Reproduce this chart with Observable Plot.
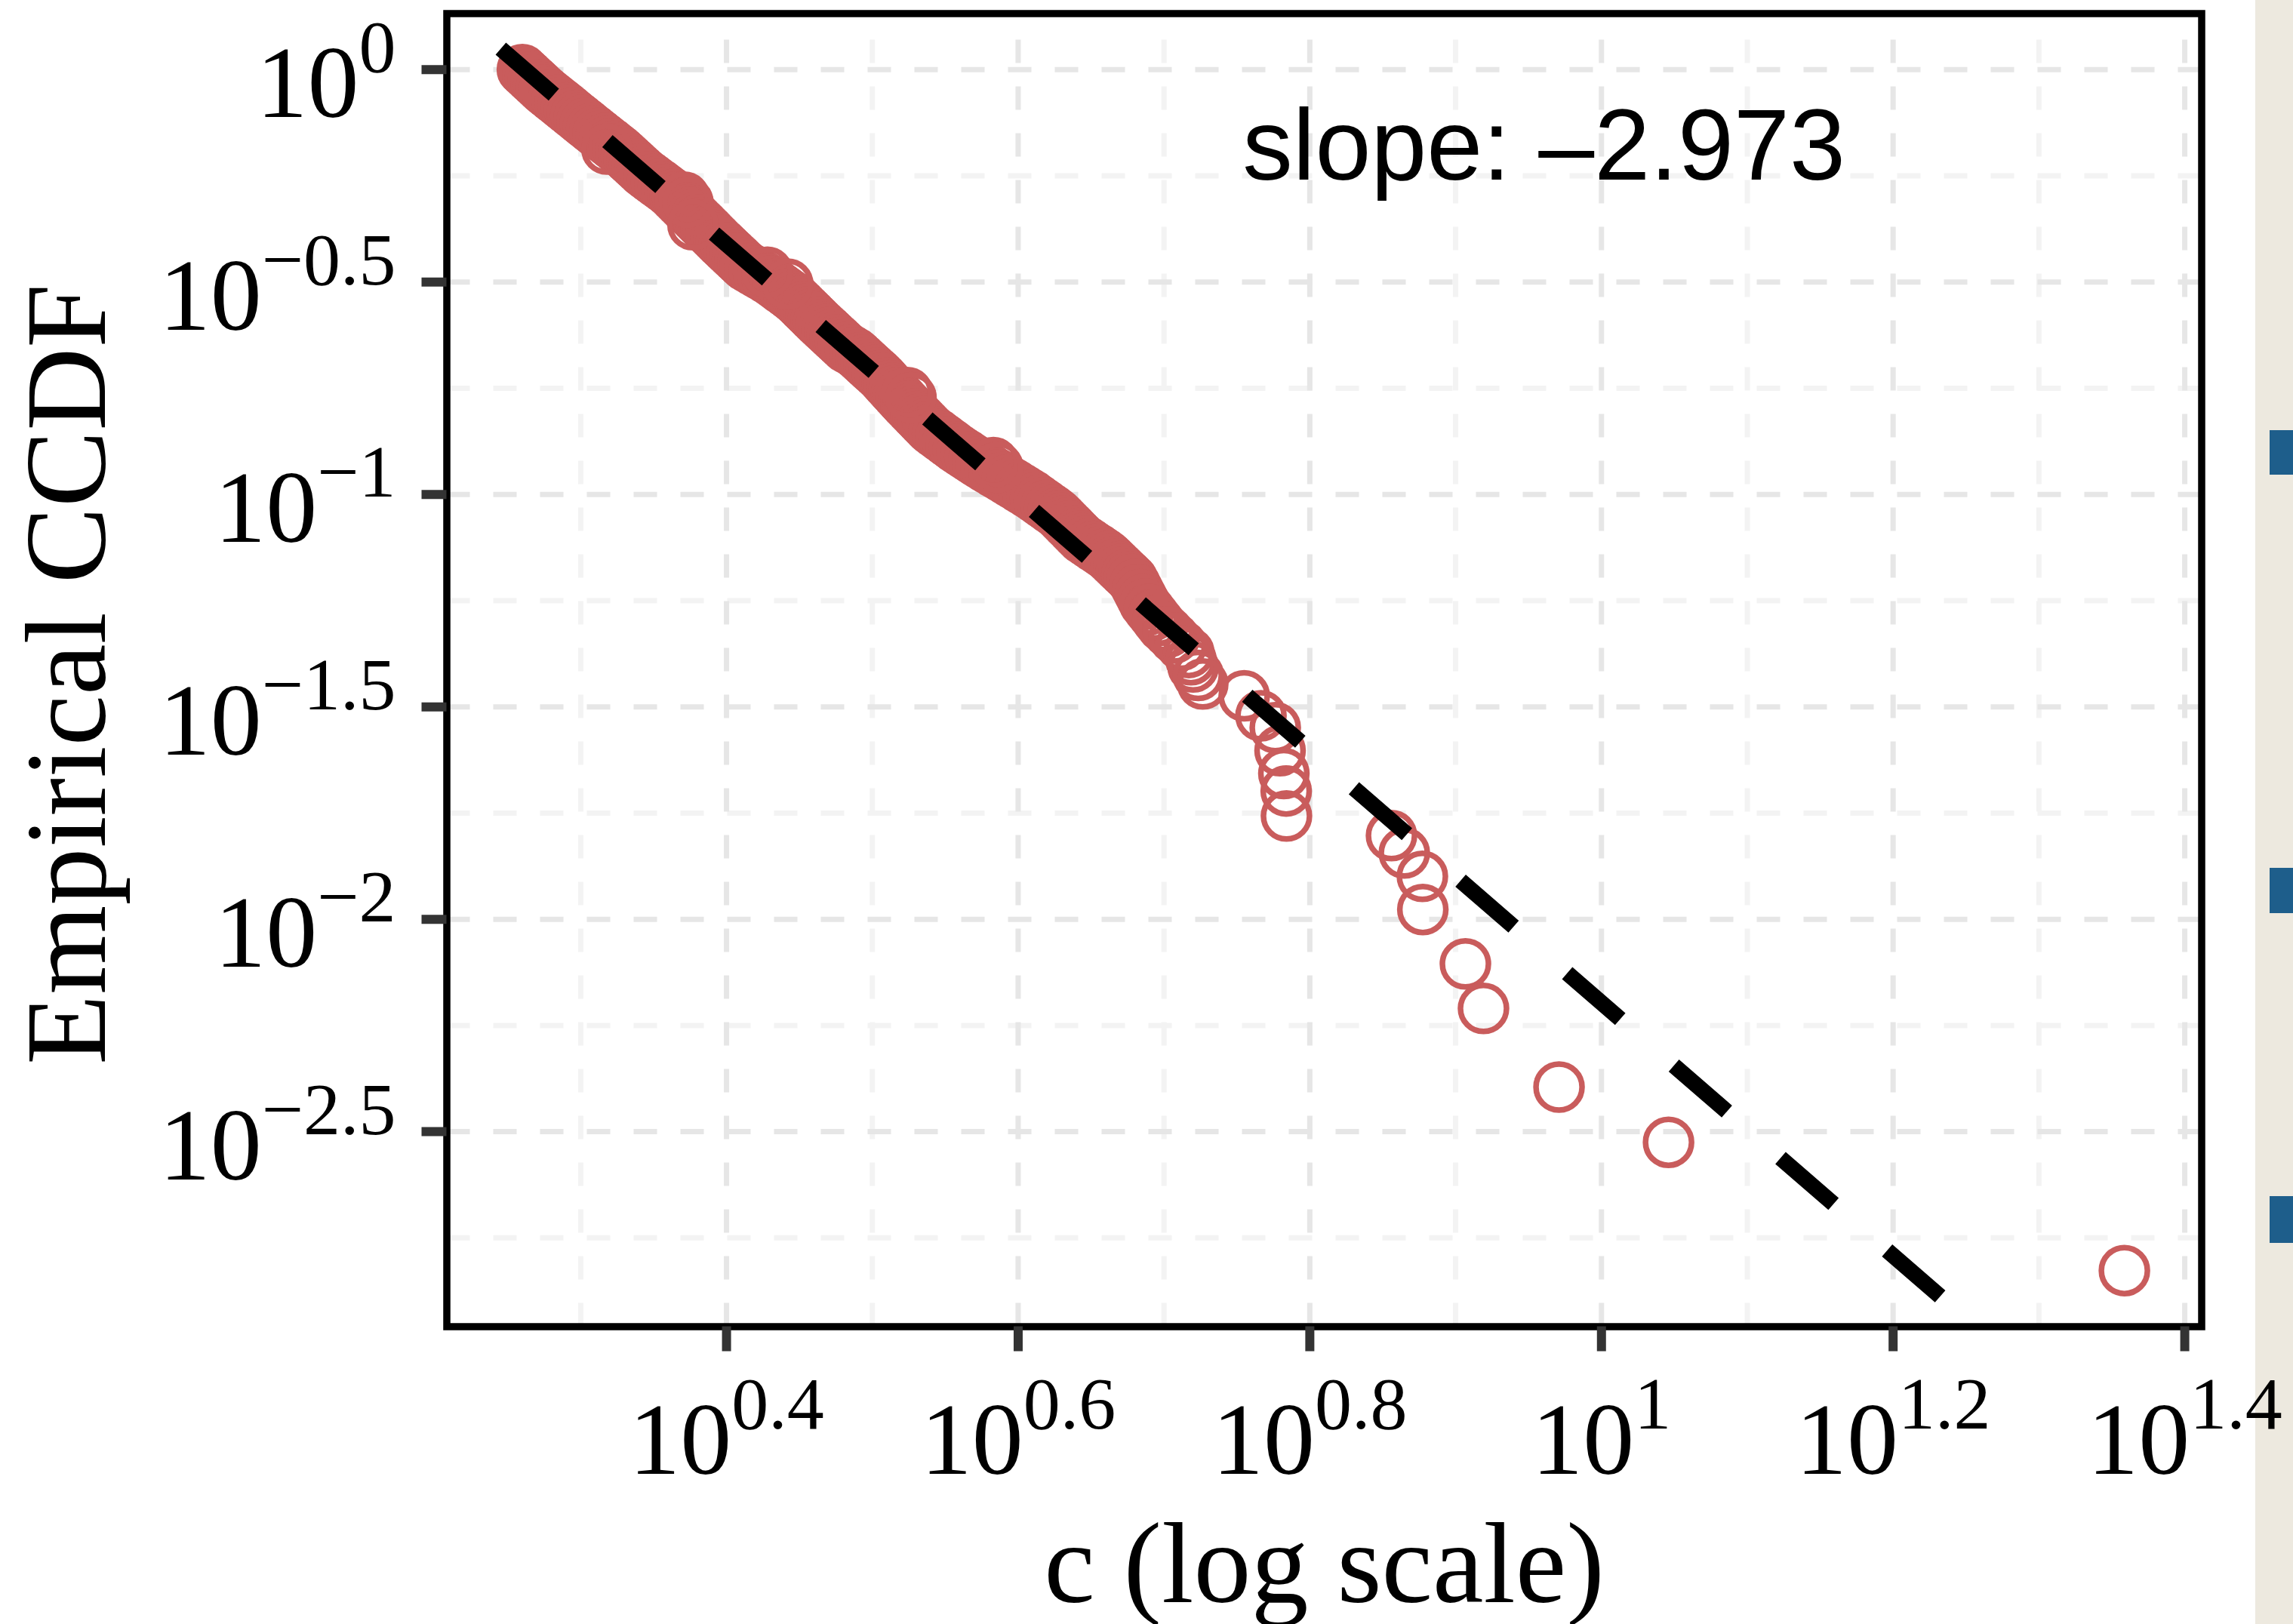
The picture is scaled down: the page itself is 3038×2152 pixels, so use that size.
<!DOCTYPE html>
<html>
<head>
<meta charset="utf-8">
<script src="https://cdn.jsdelivr.net/npm/d3@7"></script>
<script src="https://cdn.jsdelivr.net/npm/@observablehq/plot@0.6"></script>
<style>
  html, body { margin: 0; padding: 0; background: #ffffff; width: 3038px; height: 2152px; overflow: hidden; }
  #strip { position: absolute; left: 2988px; top: 0; width: 50px; height: 2152px; background: #EDE9DF; z-index: 0; }
  .sq { position: absolute; left: 3007px; width: 31px; background: #1E5E8B; z-index: 0; }
  #chart { position: absolute; left: 0; top: 0; z-index: 1; }
</style>
</head>
<body>
<div id="strip"></div>
<div class="sq" style="top:570px;height:59px"></div>
<div class="sq" style="top:1150px;height:60px"></div>
<div class="sq" style="top:1585px;height:62px"></div>
<div id="chart"></div>
<script>
// ---- data (log10 exponents) ----
const cExp = [
  0.2600,0.2619,0.2638,0.2656,0.2675,0.2694,0.2713,0.2731,0.2750,0.2772,
  0.2793,0.2815,0.2837,0.2859,0.2880,0.2902,0.2924,0.2945,0.2967,0.2989,
  0.3010,0.3032,0.3054,0.3076,0.3097,0.3120,0.3142,0.3164,0.3187,0.3209,
  0.3231,0.3254,0.3275,0.3294,0.3313,0.3332,0.3351,0.3370,0.3389,0.3408,
  0.3427,0.3448,0.3472,0.3495,0.3519,0.3543,0.3567,0.3590,0.3613,0.3631,
  0.3648,0.3666,0.3683,0.3701,0.3718,0.3736,0.3754,0.3771,0.3789,0.3806,
  0.3824,0.3842,0.3859,0.3877,0.3894,0.3911,0.3929,0.3946,0.3964,0.3983,
  0.4001,0.4019,0.4038,0.4056,0.4075,0.4093,0.4112,0.4130,0.4160,0.4190,
  0.4220,0.4250,0.4280,0.4308,0.4332,0.4355,0.4379,0.4403,0.4427,0.4450,
  0.4473,0.4491,0.4509,0.4526,0.4544,0.4562,0.4580,0.4597,0.4615,0.4633,
  0.4651,0.4670,0.4689,0.4708,0.4726,0.4745,0.4764,0.4783,0.4801,0.4820,
  0.4850,0.4880,0.4901,0.4920,0.4939,0.4958,0.4977,0.4996,0.5015,0.5035,
  0.5054,0.5071,0.5087,0.5102,0.5118,0.5134,0.5150,0.5166,0.5182,0.5198,
  0.5214,0.5230,0.5247,0.5264,0.5281,0.5298,0.5315,0.5332,0.5349,0.5366,
  0.5383,0.5400,0.5423,0.5447,0.5470,0.5494,0.5517,0.5541,0.5564,0.5589,
  0.5616,0.5643,0.5669,0.5696,0.5723,0.5750,0.5779,0.5808,0.5837,0.5867,
  0.5896,0.5925,0.5953,0.5982,0.6010,0.6038,0.6067,0.6095,0.6119,0.6144,
  0.6168,0.6193,0.6217,0.6242,0.6266,0.6285,0.6302,0.6319,0.6336,0.6354,
  0.6371,0.6388,0.6405,0.6423,0.6440,0.6466,0.6492,0.6518,0.6545,0.6571,
  0.6597,0.6619,0.6637,0.6655,0.6673,0.6691,0.6709,0.6727,0.6746,0.6764,
  0.6782,
  0.6801,0.6819,0.6837,0.6855,0.6870,0.6899,0.6929,0.6958,0.6990,0.7030,
  0.7070,0.7120,0.7170,0.7185,0.7200,0.7235,0.7266,
  0.7550,0.7665,0.7763,0.7796,0.7822,0.7838,0.7840,
  0.8560,0.8648,0.8772,0.8775,
  0.9067,0.9191,0.9709,1.0460,1.3586,
  // lumps along the dense band
  0.3180,0.3710,0.3735,0.3770,0.4280,0.4420,0.5240,0.5265,0.5830,0.5860
];
const ccdfExp = [
  0,-0.006,-0.012,-0.018,-0.024,-0.030,-0.036,-0.042,-0.048,-0.054,
  -0.060,-0.066,-0.072,-0.078,-0.084,-0.090,-0.096,-0.102,-0.108,-0.114,
  -0.120,-0.126,-0.132,-0.138,-0.144,-0.150,-0.156,-0.162,-0.168,-0.174,
  -0.180,-0.186,-0.192,-0.198,-0.204,-0.210,-0.216,-0.222,-0.228,-0.234,
  -0.240,-0.246,-0.252,-0.258,-0.264,-0.270,-0.276,-0.282,-0.288,-0.294,
  -0.300,-0.306,-0.312,-0.318,-0.324,-0.330,-0.336,-0.342,-0.348,-0.354,
  -0.360,-0.366,-0.372,-0.378,-0.384,-0.390,-0.396,-0.402,-0.408,-0.414,
  -0.420,-0.426,-0.432,-0.438,-0.444,-0.450,-0.456,-0.462,-0.468,-0.474,
  -0.480,-0.486,-0.492,-0.498,-0.504,-0.510,-0.516,-0.522,-0.528,-0.534,
  -0.540,-0.546,-0.552,-0.558,-0.564,-0.570,-0.576,-0.582,-0.588,-0.594,
  -0.600,-0.606,-0.612,-0.618,-0.624,-0.630,-0.636,-0.642,-0.648,-0.654,
  -0.660,-0.666,-0.672,-0.678,-0.684,-0.690,-0.696,-0.702,-0.708,-0.714,
  -0.720,-0.726,-0.732,-0.738,-0.744,-0.750,-0.756,-0.762,-0.768,-0.774,
  -0.780,-0.786,-0.792,-0.798,-0.804,-0.810,-0.816,-0.822,-0.828,-0.834,
  -0.840,-0.846,-0.852,-0.858,-0.864,-0.870,-0.876,-0.882,-0.888,-0.894,
  -0.900,-0.906,-0.912,-0.918,-0.924,-0.930,-0.936,-0.942,-0.948,-0.954,
  -0.960,-0.966,-0.972,-0.978,-0.984,-0.990,-0.996,-1.002,-1.008,-1.014,
  -1.020,-1.026,-1.032,-1.038,-1.044,-1.050,-1.056,-1.062,-1.068,-1.074,
  -1.080,-1.086,-1.092,-1.098,-1.104,-1.110,-1.116,-1.122,-1.128,-1.134,
  -1.140,-1.146,-1.152,-1.158,-1.164,-1.170,-1.176,-1.182,-1.188,-1.194,
  -1.200,
  -1.212,-1.224,-1.236,-1.248,-1.258,-1.271,-1.284,-1.297,-1.311,-1.324,
  -1.338,-1.355,-1.372,-1.389,-1.406,-1.426,-1.446,
  -1.474,-1.521,-1.549,-1.603,-1.657,-1.698,-1.757,
  -1.803,-1.844,-1.899,-1.977,
  -2.105,-2.210,-2.395,-2.525,-2.827,
  // lumps along the dense band
  -0.187,-0.300,-0.312,-0.365,-0.477,-0.505,-0.760,-0.772,-0.925,-0.936
];
// fitted power-law line (log10 exponents of its end points)
const fitCExp = [0.2452, 1.2339];
const fitCcdfExp = [0.0494, -2.8925];
const slopeLabel = "slope: \u20132.973";

// axes
const xDomainExp = [0.2082, 1.4116];
const yDomainExp = [-2.959, 0.132];
const xTickExp = [0.4, 0.6, 0.8, 1.0, 1.2, 1.4];
const xTickLabels = ["0.4", "0.6", "0.8", "1", "1.2", "1.4"];
const xMinorExp = [0.3, 0.5, 0.7, 0.9, 1.1, 1.3];
const yTickExp = [0, -0.5, -1, -1.5, -2, -2.5];
const yTickLabels = ["0", "\u22120.5", "\u22121", "\u22121.5", "\u22122", "\u22122.5"];
const yMinorExp = [-0.25, -0.75, -1.25, -1.75, -2.25, -2.75];
const xTitle = "c (log scale)";
const yTitle = "Empirical CCDF";

// ---- build ----
const points = cExp.map((e, i) => ({c: 10 ** e, p: 10 ** ccdfExp[i]}));
const fit = fitCExp.map((e, i) => ({c: 10 ** e, p: 10 ** fitCcdfExp[i]}));
const X0 = 10 ** xDomainExp[0], X1 = 10 ** xDomainExp[1];
const Y0 = 10 ** yDomainExp[0], Y1 = 10 ** yDomainExp[1];

const SERIF = "'Liberation Serif', 'Times New Roman', Times, serif";
const SANS = "'Liberation Sans', Arial, Helvetica, sans-serif";
const RED = "#C95C5C";
const TICK_MARK = "\u2063"; // invisible marker to find tick labels later

const svg = Plot.plot({
  width: 3038,
  height: 2152,
  marginLeft: 591.5,
  marginRight: 121.5,
  marginTop: 17.5,
  marginBottom: 394.5,
  style: {background: "transparent", overflow: "visible"},
  x: {type: "log", domain: [X0, X1]},
  y: {type: "log", domain: [Y0, Y1]},
  marks: [
    // grid (minor then major), dashed
    Plot.ruleY(yMinorExp, {y: d => 10 ** d, x1: X0, x2: X1, stroke: "#F3F3F3", strokeWidth: 7, strokeDasharray: "31,31"}),
    Plot.ruleX(xMinorExp, {x: d => 10 ** d, y1: Y0, y2: Y1, stroke: "#F3F3F3", strokeWidth: 7, strokeDasharray: "31,31"}),
    Plot.ruleY(yTickExp, {y: d => 10 ** d, x1: X0, x2: X1, stroke: "#E6E6E6", strokeWidth: 7, strokeDasharray: "31,31"}),
    Plot.ruleX(xTickExp, {x: d => 10 ** d, y1: Y0, y2: Y1, stroke: "#E6E6E6", strokeWidth: 7, strokeDasharray: "31,31"}),
    // data
    Plot.dot(points, {x: "c", y: "p", r: 30.5, stroke: RED, strokeWidth: 7.5, fill: "none"}),
    // fitted line
    Plot.line(fit, {x: "c", y: "p", stroke: "black", strokeWidth: 21, strokeDasharray: "93,94", strokeLinecap: "butt"}),
    // panel border
    Plot.frame({stroke: "black", strokeWidth: 9.5}),
    // tick marks
    Plot.axisX(xTickExp.map(e => 10 ** e), {anchor: "bottom", tickSize: 33, stroke: "#333333", strokeWidth: 12, fill: "none", label: null}),
    Plot.axisY(yTickExp.map(e => 10 ** e), {anchor: "left", tickSize: 33, stroke: "#333333", strokeWidth: 12, fill: "none", label: null}),
    // tick labels
    Plot.text(xTickExp, {x: e => 10 ** e, frameAnchor: "bottom", dy: 194.5, lineAnchor: "bottom", textAnchor: "middle",
      text: (e, i) => TICK_MARK + xTickLabels[i], fontFamily: SERIF, fontSize: 136, fill: "black"}),
    Plot.text(yTickExp, {y: e => 10 ** e, frameAnchor: "left", dx: -67.5, dy: 63, lineAnchor: "bottom", textAnchor: "end",
      text: (e, i) => TICK_MARK + yTickLabels[i], fontFamily: SERIF, fontSize: 136, fill: "black"}),
    // axis titles
    Plot.text([xTitle], {frameAnchor: "bottom", dy: 365, lineAnchor: "bottom", textAnchor: "middle",
      text: d => d, fontFamily: SERIF, fontSize: 152, fill: "black"}),
    Plot.text([yTitle], {frameAnchor: "left", dx: -453.5, dy: 5.5, rotate: -90, lineAnchor: "bottom", textAnchor: "middle",
      text: d => d, fontFamily: SERIF, fontSize: 152, fill: "black"}),
    // slope annotation
    Plot.text([slopeLabel], {x: () => 10 ** 0.9606, y: () => 10 ** -0.258, lineAnchor: "bottom", textAnchor: "middle",
      text: d => d, fontFamily: SANS, fontSize: 133, fill: "black"})
  ]
});

// superscript exponents: "10" followed by a raised, smaller exponent
const NS = "http://www.w3.org/2000/svg";
svg.querySelectorAll("text").forEach(t => {
  const s = t.textContent;
  if (!s || s.charAt(0) !== TICK_MARK) return;
  const exp = s.slice(1);
  while (t.firstChild) t.removeChild(t.firstChild);
  t.appendChild(document.createTextNode("10"));
  const ts = document.createElementNS(NS, "tspan");
  ts.setAttribute("dy", "-60");
  ts.setAttribute("font-size", "98");
  ts.textContent = exp;
  t.appendChild(ts);
});

document.getElementById("chart").appendChild(svg);
</script>
</body>
</html>
